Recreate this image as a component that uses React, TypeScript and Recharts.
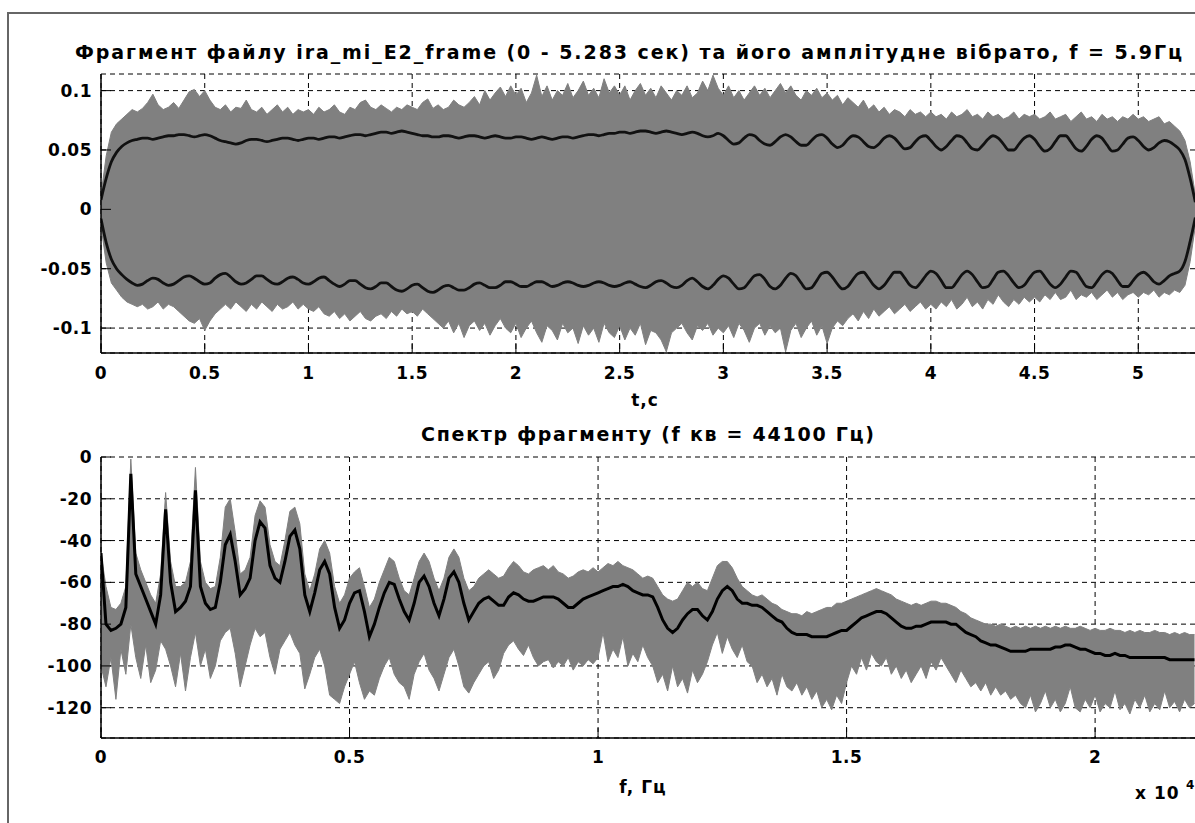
import { Area, CartesianGrid, ComposedChart, Line, XAxis, YAxis } from "recharts";

// waveform: one sample every 25 ms, amplitudes in thousandths
const DT = 0.025;
const T_END = 5.283;

const waveHigh = [
  12, 45, 65, 72, 76, 80, 84, 82, 85, 90, 97, 88, 84, 86, 90, 85, 92, 99, 101, 95,
  100, 92, 86, 84, 88, 82, 86, 85, 92, 84, 82, 86, 80, 84, 88, 82, 86, 80, 84, 82,
  84, 80, 86, 82, 84, 88, 82, 80, 86, 84, 90, 92, 86, 84, 88, 85, 82, 86, 84, 88,
  86, 84, 90, 93, 85, 88, 84, 86, 92, 88, 86, 90, 95, 88, 100, 92, 98, 103, 95, 104,
  96, 102, 90, 98, 113, 95, 104, 92, 100, 96, 106, 94, 100, 108, 96, 102, 94, 110, 98, 104,
  96, 104, 92, 100, 106, 96, 102, 94, 104, 98, 92, 100, 96, 104, 94, 98, 108, 100, 113, 102,
  96, 104, 94, 100, 92, 98, 104, 96, 102, 94, 100, 106, 98, 104, 96, 92, 100, 96, 102, 94,
  98, 92, 96, 88, 94, 90, 86, 92, 84, 88, 82, 86, 80, 84, 82, 78, 84, 80, 82, 78,
  82, 78, 80, 76, 82, 78, 80, 84, 78, 80, 76, 82, 78, 80, 76, 78, 82, 76, 80, 78,
  80, 76, 78, 82, 76, 78, 80, 74, 78, 82, 76, 78, 74, 80, 76, 78, 74, 78, 76, 80,
  76, 78, 74, 76, 78, 72, 74, 70, 66, 58, 40, 12,
];

const waveLow = [
  -14, -45, -62, -68, -74, -78, -80, -82, -80, -84, -82, -78, -84, -80, -82, -86, -90, -94, -96, -92,
  -102, -94, -88, -84, -80, -84, -78, -82, -86, -80, -84, -78, -82, -86, -80, -84, -82, -78, -84, -80,
  -84, -86, -82, -88, -90, -86, -92, -88, -94, -90, -86, -92, -94, -90, -88, -92, -86, -90, -84, -88,
  -86, -90, -84, -88, -92, -96, -100, -94, -104, -96, -108, -98, -94, -102, -96, -106, -98, -92, -100, -104,
  -96, -108, -100, -94, -104, -112, -98, -102, -110, -96, -104, -100, -113, -98, -106, -100, -112, -96, -104, -108,
  -98, -110, -100, -106, -96, -114, -102, -104, -110, -120, -104, -100, -96, -104, -110, -98, -102, -96, -106, -100,
  -104, -98, -108, -96, -102, -112, -100, -96, -106, -98, -104, -100, -120, -102, -96, -108, -100, -94, -106, -98,
  -113, -100, -94, -98, -92, -88, -94, -86, -92, -84, -90, -86, -82, -88, -84, -80, -86, -82, -78, -84,
  -80, -84, -78, -82, -76, -84, -80, -74, -82, -78, -84, -76, -80, -72, -78, -82, -76, -80, -74, -78,
  -74, -78, -72, -76, -70, -76, -74, -68, -76, -72, -74, -70, -76, -72, -68, -74, -70, -76, -72, -70,
  -74, -70, -72, -68, -74, -70, -72, -68, -70, -64, -44, -14,
];

const envUp = [
  8, 26, 40, 48, 53, 56, 58, 59, 60, 60, 59, 60, 61, 62, 62, 63, 63, 62, 61, 62,
  63, 62, 60, 58, 57, 56, 55, 56, 58, 59, 59, 58, 57, 58, 59, 60, 60, 59, 58, 59,
  60, 60, 59, 60, 61, 61, 60, 61, 62, 63, 63, 62, 63, 64, 65, 65, 64, 65, 66, 65,
  64, 63, 62, 62, 61, 61, 62, 62, 61, 60, 61, 62, 62, 61, 60, 61, 62, 61, 60, 60,
  61, 61, 60, 59, 60, 61, 60, 59, 60, 61, 61, 60, 61, 62, 63, 63, 62, 63, 64, 64,
  65, 65, 64, 65, 66, 66, 65, 64, 65, 66, 65, 64, 63, 64, 65, 64, 62, 61, 62, 64,
  62, 58, 55, 56, 60, 63, 62, 58, 55, 54, 57, 61, 63, 61, 57, 54, 54, 58, 62, 63,
  60, 55, 52, 54, 59, 62, 61, 57, 53, 52, 55, 60, 62, 60, 55, 51, 52, 57, 61, 62,
  58, 53, 50, 53, 58, 62, 61, 56, 51, 50, 54, 59, 62, 60, 55, 50, 50, 55, 60, 62,
  59, 53, 49, 51, 57, 62, 62, 57, 51, 49, 53, 59, 62, 60, 54, 49, 50, 55, 60, 61,
  58, 53, 50, 52, 56, 58, 57, 54, 50, 42, 26, 6,
];

const envLow = [
  -8, -28, -42, -50, -55, -59, -62, -64, -63, -60, -58, -59, -62, -64, -63, -60, -57, -56, -58, -61,
  -63, -62, -58, -55, -54, -57, -61, -63, -62, -59, -56, -56, -59, -62, -63, -61, -58, -57, -59, -62,
  -63, -61, -58, -57, -60, -63, -65, -63, -60, -60, -63, -66, -67, -65, -62, -62, -65, -68, -69, -67,
  -64, -63, -66, -69, -70, -68, -65, -64, -66, -68, -68, -66, -63, -62, -64, -66, -66, -64, -61, -61,
  -63, -65, -65, -63, -61, -61, -63, -65, -64, -62, -61, -62, -64, -65, -64, -62, -61, -62, -64, -65,
  -64, -62, -61, -63, -65, -66, -64, -61, -60, -62, -65, -66, -64, -60, -58, -61, -65, -67, -64, -59,
  -56, -58, -63, -67, -66, -61, -56, -55, -59, -65, -67, -64, -58, -54, -56, -62, -67, -66, -60, -54,
  -53, -57, -63, -67, -65, -59, -54, -53, -58, -64, -67, -64, -58, -53, -53, -58, -64, -66, -62, -56,
  -52, -54, -60, -66, -66, -61, -55, -52, -55, -61, -66, -65, -59, -53, -52, -56, -62, -66, -64, -58,
  -53, -52, -57, -63, -66, -63, -57, -52, -53, -59, -65, -66, -61, -55, -52, -54, -60, -65, -65, -60,
  -55, -53, -56, -61, -63, -60, -56, -54, -52, -44, -27, -7,
];

// spectrum: one value every 100 Hz, dB
const DF = 100;
const F_END = 22050;

const specHigh = [
  -46, -62, -72, -73, -70, -62, -1, -46, -54, -60,
  -66, -70, -56, -17, -50, -62, -62, -60, -50, -5,
  -50, -60, -63, -62, -48, -24, -20, -36, -56, -54,
  -48, -28, -21, -24, -42, -50, -52, -40, -26, -24,
  -32, -56, -64, -56, -44, -40, -46, -62, -70, -66,
  -58, -55, -53, -62, -72, -68, -60, -54, -48, -50,
  -58, -64, -66, -58, -50, -46, -50, -58, -64, -58,
  -48, -44, -48, -58, -64, -62, -58, -56, -54, -56,
  -58, -57, -53, -50, -52, -55, -56, -54, -53, -52,
  -54, -52, -55, -56, -58, -57, -55, -54, -55, -53,
  -55, -53, -51, -52, -50, -52, -53, -54, -56, -58,
  -57, -58, -62, -66, -68, -69, -68, -64, -60, -62,
  -60, -63, -64, -58, -52, -50, -50, -53, -58, -62,
  -64, -66, -67, -66, -68, -70, -71, -73, -74, -75,
  -75, -76, -74, -75, -74, -73, -72, -72, -70, -70,
  -69, -68, -67, -66, -65, -64, -63, -64, -65, -66,
  -68, -69, -70, -71, -70, -71, -70, -69, -69, -70,
  -70, -71, -72, -74, -75, -77, -78, -79, -80, -80,
  -81, -80, -81, -82, -81, -82, -81, -82, -81, -82,
  -81, -82, -81, -82, -81, -82, -82, -81, -82, -83,
  -82, -83, -83, -82, -83, -83, -84, -83, -84, -83,
  -84, -84, -83, -84, -84, -85, -84, -85, -84, -85,
  -85,
];

const specLow = [
  -100, -110, -96, -116, -92, -104, -80, -96, -106, -90,
  -108, -102, -88, -92, -100, -110, -94, -112, -96, -84,
  -100, -92, -106, -100, -88, -84, -82, -94, -110, -100,
  -90, -82, -86, -84, -96, -104, -92, -88, -84, -90,
  -94, -111, -104, -96, -92, -100, -114, -116, -118, -110,
  -104, -98, -108, -116, -112, -114, -106, -100, -96, -104,
  -108, -110, -116, -104, -98, -94, -102, -106, -112, -104,
  -96, -92, -100, -110, -113, -108, -104, -100, -98, -106,
  -102, -94, -90, -88, -92, -95, -90, -96, -100, -98,
  -97, -101, -98, -100, -96, -102, -98, -100, -97, -99,
  -96, -84, -98, -92, -96, -86, -100, -94, -98, -90,
  -96, -100, -108, -104, -112, -100, -110, -106, -113, -102,
  -108, -104, -98, -90, -84, -94, -86, -92, -96, -90,
  -98, -100, -108, -104, -110, -106, -114, -104, -110, -112,
  -108, -114, -110, -116, -112, -120, -116, -121, -114, -118,
  -108, -100, -104, -96, -102, -94, -98, -100, -96, -104,
  -100, -106, -102, -108, -104, -100, -106, -98, -102, -96,
  -100, -104, -108, -102, -106, -110, -108, -112, -108, -114,
  -110, -114, -112, -116, -114, -118, -120, -114, -122, -118,
  -112, -120, -116, -122, -118, -110, -120, -122, -116, -120,
  -114, -122, -118, -120, -112, -121, -118, -123, -116, -120,
  -114, -122, -118, -121, -112, -120, -117, -122, -116, -120,
  -118,
];

const specSmooth = [
  -46, -80, -83, -82, -80, -72, -8, -56, -62, -68,
  -74, -80, -66, -25, -60, -74, -72, -69, -62, -16,
  -62, -70, -73, -72, -60, -42, -37, -50, -66, -63,
  -58, -40, -31, -34, -52, -58, -60, -50, -38, -35,
  -44, -66, -74, -65, -54, -50, -56, -72, -82, -78,
  -70, -65, -64, -74, -86, -80, -72, -65, -60, -61,
  -68, -74, -78, -70, -60, -57, -62, -70, -76, -68,
  -58, -55, -60, -70, -78, -74, -70, -68, -67, -69,
  -71, -71, -67, -65, -66, -68, -69, -69, -68, -67,
  -67, -67, -68, -70, -72, -72, -70, -68, -67, -66,
  -65, -64, -63, -62, -62, -61, -62, -64, -65, -66,
  -66, -67, -72, -78, -82, -84, -82, -78, -75, -73,
  -73, -76, -78, -74, -68, -64, -62, -64, -68, -70,
  -70, -71, -71, -72, -74, -76, -78, -79, -82, -84,
  -85, -85, -85, -86, -86, -86, -86, -85, -84, -83,
  -83, -81, -79, -77, -76, -75, -74, -74, -75, -77,
  -79, -81, -82, -82, -81, -81, -80, -79, -79, -79,
  -79, -80, -80, -82, -84, -85, -86, -88, -89, -90,
  -90, -91, -92, -93, -93, -93, -93, -92, -92, -92,
  -92, -92, -91, -91, -90, -90, -91, -92, -92, -93,
  -94, -94, -95, -95, -94, -95, -95, -96, -96, -96,
  -96, -96, -96, -96, -96, -97, -97, -97, -97, -97,
  -97,
];

const timeTicks = [0, 0.5, 1, 1.5, 2, 2.5, 3, 3.5, 4, 4.5, 5];
const ampTicks = [-100, -50, 0, 50, 100];
const freqTicks = [0, 5000, 10000, 15000, 20000];
const dbTicks = [-120, -100, -80, -60, -40, -20, 0];

const waveRows = waveHigh.map((hi, i) => ({
  t: i * DT,
  band: [waveLow[i], hi],
  up: envUp[i],
  lo: envLow[i],
}));

const specRows = specHigh.map((hi, i) => ({
  f: i * DF,
  band: [specLow[i], hi],
  smooth: specSmooth[i],
}));

const FONT = "'DejaVu Sans', 'Liberation Sans', sans-serif";
const tickFont = { fill: "#000", fontSize: 17, fontWeight: 700, fontFamily: FONT, letterSpacing: 0.5 };
const axisLine = { stroke: "#000", strokeWidth: 1.5 };
const GRAY = "#808080";

function WaveChart() {
  return (
    <ComposedChart width={1210} height={383} data={waveRows} margin={{ top: 74, right: 13, bottom: 0, left: 0 }}>
      <CartesianGrid stroke="#000" strokeDasharray="5 4" />
      <XAxis dataKey="t" type="number" domain={[0, T_END]} ticks={timeTicks} allowDataOverflow interval={0}
        height={30} tickSize={-10} tickMargin={24} tick={tickFont} stroke="#000" axisLine={axisLine} />
      <XAxis xAxisId="top" orientation="top" dataKey="t" type="number" domain={[0, T_END]} ticks={timeTicks}
        allowDataOverflow interval={0} height={0} tickSize={-10} tickFormatter={() => ""} stroke="#000" axisLine={axisLine} />
      <YAxis type="number" domain={[-121, 114]} ticks={ampTicks} allowDataOverflow interval={0} width={101}
        tickSize={-10} tickMargin={19} tick={tickFont} tickFormatter={(v) => String(Number(v) / 1000)}
        stroke="#000" axisLine={axisLine} />
      <Area dataKey="band" type="linear" fill={GRAY} fillOpacity={1} stroke={GRAY} strokeWidth={1} isAnimationActive={false} />
      <Line dataKey="up" type="monotone" stroke="#111" strokeWidth={2.8} dot={false} isAnimationActive={false} />
      <Line dataKey="lo" type="monotone" stroke="#111" strokeWidth={2.8} dot={false} isAnimationActive={false} />
    </ComposedChart>
  );
}

function SpectrumChart() {
  return (
    <ComposedChart width={1210} height={368} data={specRows} margin={{ top: 57, right: 13, bottom: 0, left: 0 }}>
      <CartesianGrid stroke="#000" strokeDasharray="5 4" />
      <XAxis dataKey="f" type="number" domain={[0, F_END]} ticks={freqTicks} allowDataOverflow interval={0}
        height={30} tickSize={-10} tickMargin={23} tick={tickFont} tickFormatter={(v) => String(Number(v) / 10000)}
        stroke="#000" axisLine={axisLine} />
      <XAxis xAxisId="top" orientation="top" dataKey="f" type="number" domain={[0, F_END]} ticks={freqTicks}
        allowDataOverflow interval={0} height={0} tickSize={-10} tickFormatter={() => ""} stroke="#000" axisLine={axisLine} />
      <YAxis type="number" domain={[-134.5, 0]} ticks={dbTicks} allowDataOverflow interval={0} width={101}
        tickSize={-10} tickMargin={19} tick={tickFont} stroke="#000" axisLine={axisLine} />
      <Area dataKey="band" type="linear" fill={GRAY} fillOpacity={1} stroke={GRAY} strokeWidth={1} isAnimationActive={false} />
      <Line dataKey="smooth" type="linear" stroke="#000" strokeWidth={3} dot={false} isAnimationActive={false} />
    </ComposedChart>
  );
}

export default function App() {
  const txt = { fontFamily: FONT, fontWeight: 700, fill: "#000" } as const;
  return (
    <div style={{ position: "absolute", left: 0, top: 0, width: 1195, height: 823, overflow: "hidden", background: "#fff" }}>
      <div style={{ position: "absolute", left: 7, top: 12, width: 1400, height: 1000, borderLeft: "2px solid #666", borderTop: "2px solid #666" }} />
      <div style={{ position: "absolute", left: 0, top: 0 }}>
        <WaveChart />
      </div>
      <div style={{ position: "absolute", left: 0, top: 400 }}>
        <SpectrumChart />
      </div>
      <svg width={1195} height={823} style={{ position: "absolute", left: 0, top: 0, pointerEvents: "none" }}>
        <text x={75} y={59} fontSize={19} textLength={1107} lengthAdjust="spacing" {...txt}>
          Фрагмент файлу ira_mi_E2_frame (0 - 5.283 сек) та його амплітудне вібрато, f = 5.9Гц
        </text>
        <text x={645} y={406} fontSize={17} textAnchor="middle" letterSpacing={1} {...txt}>t,c</text>
        <text x={421} y={441} fontSize={19} textLength={453} lengthAdjust="spacing" {...txt}>
          Спектр фрагменту (f кв = 44100 Гц)
        </text>
        <text x={643} y={793} fontSize={17} textAnchor="middle" letterSpacing={1} {...txt}>f, Гц</text>
        <text x={1135} y={799} fontSize={17} letterSpacing={1} {...txt}>x 10</text>
        <text x={1186} y={789} fontSize={12} {...txt}>4</text>
      </svg>
    </div>
  );
}
